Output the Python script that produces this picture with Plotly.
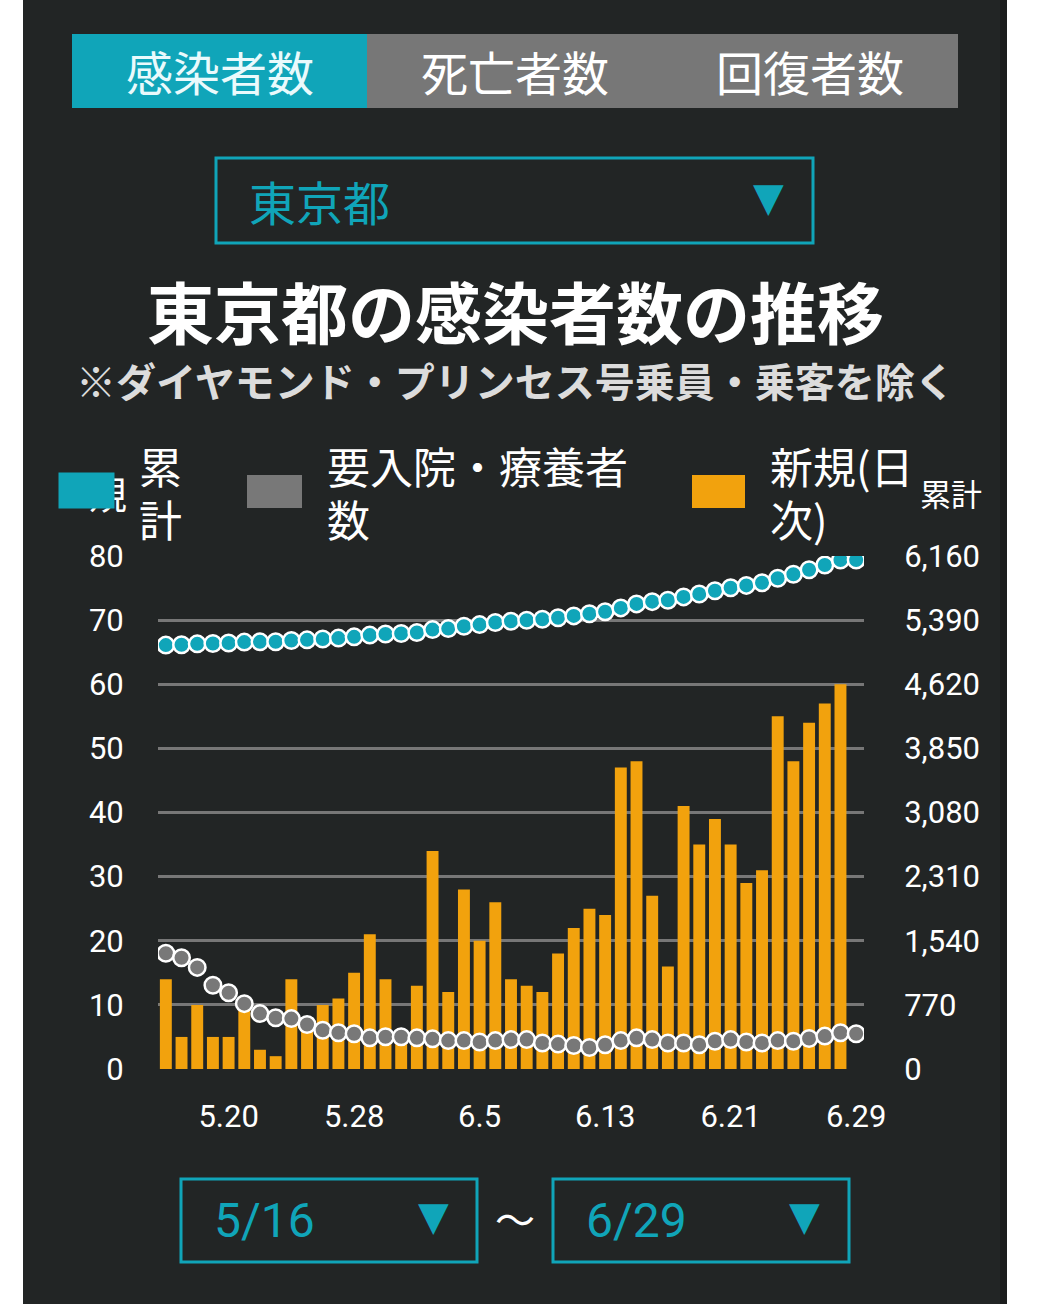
import plotly.graph_objects as go

# ---------------- data ----------------
dates = (["5.%d" % d for d in range(16, 32)] + ["6.%d" % d for d in range(1, 30)])
tick_labels = ["5.20", "5.28", "6.5", "6.13", "6.21", "6.29"]

new_cases = [14, 5, 10, 5, 5, 11, 3, 2, 14, 8, 10, 11, 15, 21, 14, 5, 13, 34, 12, 28,
             20, 26, 14, 13, 12, 18, 22, 25, 24, 47, 48, 27, 16, 41, 35, 39, 35, 29, 31, 55,
             48, 54, 57, 60, None]

cumulative = [5090, 5095, 5105, 5110, 5115, 5126, 5129, 5131, 5145, 5153, 5163, 5174, 5189,
              5210, 5224, 5229, 5242, 5276, 5288, 5316, 5336, 5362, 5376, 5389, 5401, 5419,
              5441, 5466, 5490, 5537, 5585, 5612, 5628, 5669, 5704, 5743, 5778, 5807, 5838,
              5893, 5941, 5995, 6052, 6112, 6112]

inpatients = [1390, 1335, 1220, 1005, 915, 785, 665, 615, 605, 535, 466, 436, 424, 374, 387,
              387, 374, 362, 341, 341, 324, 341, 353, 353, 312, 299, 283, 258, 291, 341, 374,
              353, 312, 312, 291, 333, 353, 324, 312, 341, 333, 366, 395, 436, 424]

left_ticks = [0, 10, 20, 30, 40, 50, 60, 70, 80]
right_ticks = [0, 770, 1540, 2310, 3080, 3850, 4620, 5390, 6160]

# ---------------- styling ----------------
W, H = 1055, 1304
BG = "#222525"
TEAL = "#10A5B9"
GRAY = "#787878"
ORANGE = "#F2A20D"
CJK = "Noto Sans CJK JP"
NUM = "Roboto"


def px(x):
    return x / W


def py(y):
    return 1 - y / H


fig = go.Figure()
fig.add_trace(go.Bar(x=dates, y=new_cases, marker=dict(color=ORANGE, line=dict(width=0)),
                     yaxis="y", name="新規(日次)"))
fig.add_trace(go.Scatter(x=dates, y=inpatients, mode="markers", yaxis="y2",
                         marker=dict(size=16.5, color=GRAY, line=dict(color="white", width=2.5)),
                         name="要入院・療養者数"))
fig.add_trace(go.Scatter(x=dates, y=cumulative, mode="markers", yaxis="y2",
                         marker=dict(size=16.5, color=TEAL, line=dict(color="white", width=2.5)),
                         name="累計"))

shapes = []
annotations = []


def rect(x0, y0, x1, y1, fill=None, line=None, lw=0, layer="above"):
    shapes.append(dict(type="rect", xref="paper", yref="paper",
                       x0=px(x0), x1=px(x1), y0=py(y1), y1=py(y0),
                       fillcolor=fill if fill else "rgba(0,0,0,0)",
                       line=dict(color=line if line else "rgba(0,0,0,0)", width=lw),
                       layer=layer))


def text(t, x, y, size, color="white", xanchor="center", family=CJK, **kw):
    d = dict(text=t, x=px(x), y=py(y), xref="paper", yref="paper", showarrow=False,
             xanchor=xanchor, yanchor="middle",
             font=dict(size=size, color=color, family=family))
    d.update(kw)
    annotations.append(d)


# dark panel
rect(23, 0, 1007, H, fill=BG, layer="below")
rect(1000, 0, 1007, H, fill="#1b1d1d", layer="below")

# tabs
rect(72, 34, 367, 108, fill=TEAL)
rect(367, 34, 958, 108, fill="#777777")
text("感染者数", 220, 71, 47, color="#eafafc")
text("死亡者数", 515, 71, 47)
text("回復者数", 810, 71, 47)

# prefecture dropdown
rect(216, 158, 813, 243, line=TEAL, lw=3)
text("東京都", 247, 201, 47, color=TEAL, xanchor="left")
text("▼", 768, 197, 40, color=TEAL, family="DejaVu Sans")

# title
text("<b>東京都の感染者数の推移</b>", 515, 309, 67)
text("<b>※ダイヤモンド・プリンセス号乗員・乗客を除く</b>", 515, 380, 40, color="#dcdcdc")

# legend
text("規", 108, 492, 38)
annotations.append(dict(text=" ", x=px(86.5), y=py(490.5), xref="paper", yref="paper",
                        showarrow=False, width=55, height=35, bgcolor=TEAL,
                        xanchor="center", yanchor="middle", borderpad=0,
                        font=dict(size=10)))
text("累", 160, 465, 43)
text("計", 160, 518, 43)
rect(247, 475, 302, 508, fill=GRAY)
text("要入院・療養者", 325, 465, 43, xanchor="left")
text("数", 325, 518, 43, xanchor="left")
rect(692, 475, 745, 508, fill=ORANGE)
text("新規(日", 768, 465, 43, xanchor="left")
text("次)", 768, 518, 43, xanchor="left")
text("累計", 951, 492, 31)

# date range pickers
rect(181, 1179, 477, 1262, line=TEAL, lw=3)
text("5/16", 212, 1220, 48, color=TEAL, xanchor="left", family=NUM)
text("▼", 433, 1216, 40, color=TEAL, family="DejaVu Sans")
text("〜", 515, 1218, 40)
rect(553, 1179, 849, 1262, line=TEAL, lw=3)
text("6/29", 584, 1220, 48, color=TEAL, xanchor="left", family=NUM)
text("▼", 804, 1216, 40, color=TEAL, family="DejaVu Sans")

TR = "rgba(0,0,0,0)"
fig.update_layout(
    width=W, height=H,
    margin=dict(l=0, r=0, t=0, b=0, pad=0, autoexpand=False),
    paper_bgcolor="white",
    plot_bgcolor=TR,
    showlegend=False,
    bargap=0.24,
    shapes=shapes,
    annotations=annotations,
    xaxis=dict(type="category", domain=[px(158), px(864)], range=[-0.5, 44.5],
               tickmode="array", tickvals=tick_labels, ticktext=tick_labels,
               tickfont=dict(family=NUM, size=31, color="white"),
               ticks="outside", ticklen=20, tickcolor=TR, automargin=False,
               showgrid=False, showline=False, zeroline=False),
    yaxis=dict(domain=[py(1069), py(556)], range=[0, 80], tickmode="array",
               tickvals=left_ticks, ticktext=[str(v) for v in left_ticks],
               tickfont=dict(family=NUM, size=31, color="white"),
               ticks="outside", ticklen=27, tickcolor=TR, automargin=False,
               showgrid=True, gridcolor="#777777", gridwidth=2.5,
               zeroline=True, zerolinecolor=BG, zerolinewidth=3, showline=False),
    yaxis2=dict(overlaying="y", side="right", anchor="x", range=[0, 6160], tickmode="array",
                tickvals=right_ticks, ticktext=[f"{v:,}" for v in right_ticks],
                tickfont=dict(family=NUM, size=31, color="white"),
                ticks="outside", ticklen=33, tickcolor=TR, automargin=False,
                showgrid=False, zeroline=False, showline=False),
)

fig.write_html("out.html", config={"displayModeBar": False},
               post_script="document.body.style.margin='0';")
